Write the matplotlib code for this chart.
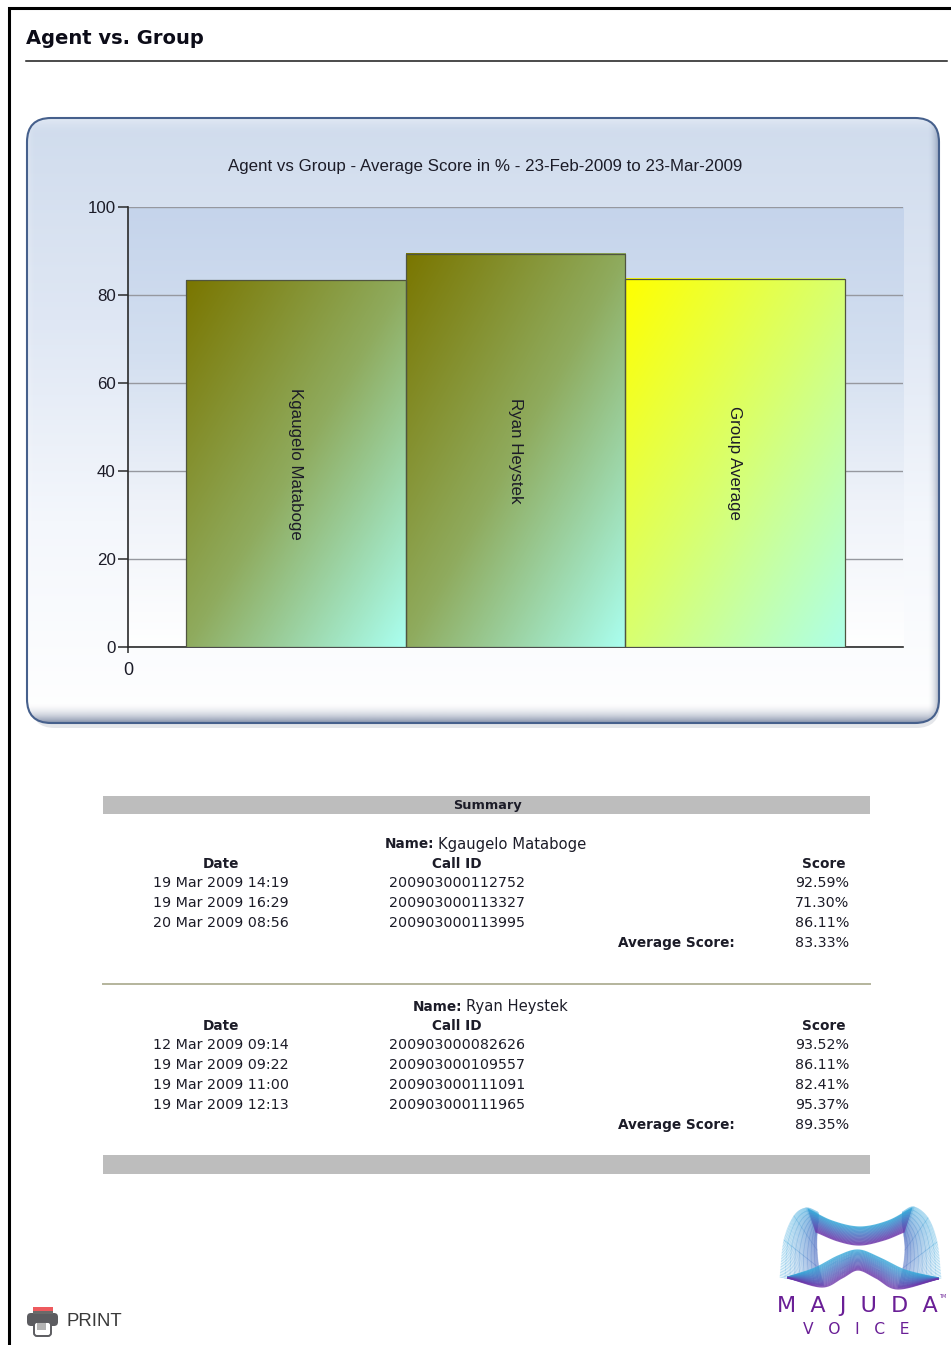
import numpy as np
import matplotlib
matplotlib.use("Agg")
import matplotlib.pyplot as plt
from matplotlib.colors import LinearSegmentedColormap, to_rgb
from matplotlib.patches import FancyBboxPatch, Rectangle

# chart data
agents = ["Kgaugelo Mataboge", "Ryan Heystek", "Group Average"]
avg_scores = [83.33, 89.35, 83.7]
y_ticks = [0, 20, 40, 60, 80, 100]

# summary tables
dates_1 = ["19 Mar 2009 14:19", "19 Mar 2009 16:29", "20 Mar 2009 08:56"]
calls_1 = ["200903000112752", "200903000113327", "200903000113995"]
scores_1 = ["92.59%", "71.30%", "86.11%"]
dates_2 = ["12 Mar 2009 09:14", "19 Mar 2009 09:22", "19 Mar 2009 11:00", "19 Mar 2009 12:13"]
calls_2 = ["200903000082626", "200903000109557", "200903000111091", "200903000111965"]
scores_2 = ["93.52%", "86.11%", "82.41%", "95.37%"]

W, H = 951, 1345
TXT = "#1c1c28"


def ax_rect(x0, y0, x1, y1):
    return [x0 / W, 1 - y1 / H, (x1 - x0) / W, (y1 - y0) / H]


def smooth(pts, n=24):
    # catmull-rom through the key points
    p = np.array(pts, dtype=float)
    p = np.vstack([2 * p[0] - p[1], p, 2 * p[-1] - p[-2]])
    out = []
    for i in range(1, len(p) - 2):
        t = np.linspace(0, 1, n)[:, None]
        out.append(0.5 * (2 * p[i] + (p[i + 1] - p[i - 1]) * t
                          + (2 * p[i - 1] - 5 * p[i] + 4 * p[i + 1] - p[i + 2]) * t ** 2
                          + (3 * p[i] - p[i - 1] - 3 * p[i + 1] + p[i + 2]) * t ** 3))
    return np.vstack(out)


def fade(color, alphas, vertical=True):
    # one colour with a ramp of alpha, used for the panel bevel
    a = np.asarray(alphas)
    img = np.zeros((len(a), 1, 4)) if vertical else np.zeros((1, len(a), 4))
    img[:, :, :3] = to_rgb(color)
    img[:, :, 3] = a[:, None] if vertical else a[None, :]
    return img


fig = plt.figure(figsize=(W / 100, H / 100), dpi=100, facecolor="white")

# page layer in pixel coordinates
page = fig.add_axes([0, 0, 1, 1])
page.set_xlim(0, W)
page.set_ylim(H, 0)
page.axis("off")

page.plot([9, 9, W], [H, 7.5, 7.5], color="black", lw=2.2, solid_joinstyle="miter")
page.plot([26, 947], [60.5, 60.5], color="#1a1a1a", lw=1.1)
page.text(26, 38, "Agent vs. Group", family="DejaVu Sans", weight="bold", fontsize=14,
          color="#0c0c18", va="center", ha="left")

# chart panel with shadow
page.add_patch(FancyBboxPatch((31, 124), 909, 604, boxstyle="round,pad=0,rounding_size=24",
                              fc="#e4e6ea", ec="none"))
panel = FancyBboxPatch((27, 118), 912, 605, boxstyle="round,pad=0,rounding_size=24",
                       fc="none", ec="none")
page.add_patch(panel)
panel_cm = LinearSegmentedColormap.from_list("panel", ["#d0dced", "#dfe7f4", "#f4f7fc", "#ffffff"])
im = page.imshow(np.linspace(0, 1, 256)[:, None], cmap=panel_cm, aspect="auto",
                 extent=(27, 939, 723, 118), zorder=1)
im.set_clip_path(panel)
bevels = [
    (fade("#56678a", np.linspace(0, 0.85, 40) ** 2), (27, 939, 723, 702)),
    (fade("#ffffff", np.linspace(0.6, 0, 20) ** 2), (27, 939, 138, 118)),
    (fade("#56678a", np.linspace(0, 0.7, 30) ** 2, vertical=False), (927, 939, 723, 118)),
    (fade("#ffffff", np.linspace(0.5, 0, 20) ** 2, vertical=False), (27, 38, 723, 118)),
]
for img, ext in bevels:
    b_im = page.imshow(img, aspect="auto", extent=ext, zorder=1.1, interpolation="bilinear")
    b_im.set_clip_path(panel)
page.add_patch(FancyBboxPatch((27, 118), 912, 605, boxstyle="round,pad=0,rounding_size=24",
                              fc="none", ec="#46608c", lw=1.5, zorder=1.2))
page.set_xlim(0, W)
page.set_ylim(H, 0)

page.text(485.5, 166, "Agent vs Group - Average Score in % - 23-Feb-2009 to 23-Mar-2009",
          family="Liberation Sans", fontsize=12.2, color=TXT, ha="center", va="center", zorder=3)

# bar chart
ax = fig.add_axes(ax_rect(128, 207, 903, 647), facecolor="none", zorder=2)
x0 = 0.5 - 58 / 219.5
ax.set_ylim(0, 100)
area_cm = LinearSegmentedColormap.from_list("area", ["#c5d4eb", "#d3dff0", "#eef2f9", "#ffffff"])
ax.imshow(np.linspace(0, 1, 256)[:, None], cmap=area_cm, aspect="auto",
          extent=(x0, x0 + 775 / 219.5, 0, 100), zorder=0)
ax.set_yticks(y_ticks)
ax.set_xticks([x0])
ax.set_xticklabels(["0"])
ax.grid(axis="y", color="#96989f", lw=1, zorder=1)
for s in ("top", "right"):
    ax.spines[s].set_visible(False)
for s in ("left", "bottom"):
    ax.spines[s].set_color("#2a2a2a")
    ax.spines[s].set_linewidth(1.2)
ax.tick_params(axis="y", length=7, width=1.1, color="#2a2a2a", pad=2, labelsize=12.2, labelcolor=TXT)
ax.tick_params(axis="x", length=4, width=1.1, color="#2a2a2a", pad=7, labelsize=13, labelcolor=TXT)
for lab in ax.get_xticklabels() + ax.get_yticklabels():
    lab.set_family("Liberation Sans")

bar_colors = [["#7a7600", "#8fab5e", "#aafff0"],
              ["#7a7600", "#8fab5e", "#aafff0"],
              ["#ffff00", "#d8ff70", "#aeffe8"]]
gu, gv = np.meshgrid(np.linspace(0, 1, 200), np.linspace(0, 1, 200))
bars = ax.bar(np.arange(1, 4), avg_scores, width=1.0, fc="none", ec="#50553f", lw=0.9, zorder=4)
for b, name, cols in zip(bars, agents, bar_colors):
    cm = LinearSegmentedColormap.from_list("bar", cols)
    ax.imshow((gu + gv) / 2, cmap=cm, vmin=0, vmax=1, aspect="auto", zorder=3,
              extent=(b.get_x(), b.get_x() + b.get_width(), 0, b.get_height()))
    ax.text(b.get_x() + b.get_width() / 2, b.get_height() / 2, name,
            rotation=270, family="Liberation Sans", fontsize=12.2, color=TXT,
            ha="center", va="center", zorder=5)
ax.set_xlim(x0, x0 + 775 / 219.5)
ax.set_ylim(0, 100)

# summary
T = dict(family="DejaVu Sans", fontsize=10.3, color=TXT, va="center")
B = dict(family="DejaVu Sans", fontsize=9.8, color=TXT, va="center", weight="bold")
page.add_patch(Rectangle((103, 796), 767, 18, fc="#bdbdbd", ec="none"))
page.text(487, 805.5, "Summary", ha="center", **{**B, "fontsize": 9.3})
page.add_patch(Rectangle((103, 1155), 767, 19, fc="#bdbdbd", ec="none"))
page.plot([103, 870], [983.5, 983.5], color="#b4b49c", lw=1.4)


def section(name, name_x, y_name, y_head, dates, calls, scores, avg):
    page.text(name_x, y_name, "Name:", ha="left", **B)
    page.text(name_x + 53, y_name, name, ha="left", **{**T, "fontsize": 10.6})
    page.text(221, y_head, "Date", ha="center", **B)
    page.text(457, y_head, "Call ID", ha="center", **B)
    page.text(824, y_head, "Score", ha="center", **B)
    y = y_head + 19
    for d, c, s in zip(dates, calls, scores):
        page.text(221, y, d, ha="center", **T)
        page.text(457, y, c, ha="center", **T)
        page.text(822, y, s, ha="center", **T)
        y += 20
    page.text(676, y, "Average Score:", ha="center", **B)
    page.text(822, y, avg, ha="center", **T)


section("Kgaugelo Mataboge", 385, 844, 864, dates_1, calls_1, scores_1, "83.33%")
section("Ryan Heystek", 413, 1007, 1026, dates_2, calls_2, scores_2, "89.35%")

# print icon
page.add_patch(FancyBboxPatch((27, 1313), 31, 13, boxstyle="round,pad=0,rounding_size=4", fc="#5c5c60", ec="none"))
page.add_patch(Rectangle((33, 1307), 20, 3.5, fc="#ee5a5e", ec="none"))
page.add_patch(Rectangle((33, 1310.5), 20, 3, fc="#6a6a6a", ec="none"))
page.add_patch(FancyBboxPatch((34, 1322), 17, 14, boxstyle="round,pad=0,rounding_size=3",
                              fc="white", ec="#5c5c60", lw=1.4))
page.add_patch(Rectangle((37, 1323), 9, 7, fc="#b4b4b4", ec="none"))
page.text(66, 1321, "PRINT", family="Liberation Sans", fontsize=13.4, color="#3a3a3a", ha="left", va="center")

# logo
blue, purple, pale = np.array([0.2, 0.66, 0.85]), np.array([0.42, 0.2, 0.66]), np.array([0.42, 0.74, 0.9])
wing_mix = 0.55 * pale + 0.45 * purple
top_a = smooth([(808, 1209), (832, 1221), (860, 1227), (888, 1221), (912, 1208)])
top_b = smooth([(816, 1232), (838, 1241), (860, 1245), (884, 1240), (904, 1232)])
low_a = smooth([(788, 1277), (815, 1268), (838, 1256), (858, 1250), (878, 1257), (905, 1270), (938, 1278)])
low_b = smooth([(788, 1278), (822, 1287), (842, 1278), (858, 1270), (876, 1278), (898, 1289), (938, 1279)])

# side wings first, ribbons go on top
wing_l = smooth([(780, 1277), (784, 1240), (794, 1216), (806, 1208), (818, 1212)], 26)
wing_r = smooth([(902, 1212), (914, 1207), (928, 1218), (937, 1242), (941, 1278)], 26)
in_l = smooth([(824, 1286), (819, 1268), (817, 1250), (817, 1234), (818, 1222)], 26)
in_r = smooth([(902, 1222), (904, 1236), (905, 1250), (903, 1268), (898, 1288)], 26)
for a, b in ((wing_l, in_l), (wing_r, in_r)):
    for i in range(len(a)):
        t = np.linspace(0, 1, 10)[:, None]
        xy = (1 - t) * a[i] + t * b[i]
        for j in range(len(xy) - 1):
            c = (1 - t[j][0]) * pale + t[j][0] * wing_mix
            page.plot(xy[j:j + 2, 0], xy[j:j + 2, 1], color=c, lw=0.55, alpha=0.6, zorder=2.5)

for a, b in ((top_a, top_b), (low_a, low_b)):
    for f in np.linspace(0, 1, 24):
        page.plot(*((1 - f) * a + f * b).T, color=(1 - f) * blue + f * purple, lw=0.9, alpha=0.75, zorder=3)

page.text(857, 1306, "M  A  J  U  D  A", family="DejaVu Sans", fontsize=16, color="#6a1f96",
          ha="center", va="center", zorder=4)
page.text(943, 1297, "TM", family="DejaVu Sans", fontsize=3.5, color="#6a1f96", ha="center", va="center")
page.text(856, 1330, "V   O   I   C   E", family="DejaVu Sans", fontsize=11.2, color="#6a1f96",
          ha="center", va="center", zorder=4)

page.set_xlim(0, W)
page.set_ylim(H, 0)
fig.savefig("out.png", dpi=100)
